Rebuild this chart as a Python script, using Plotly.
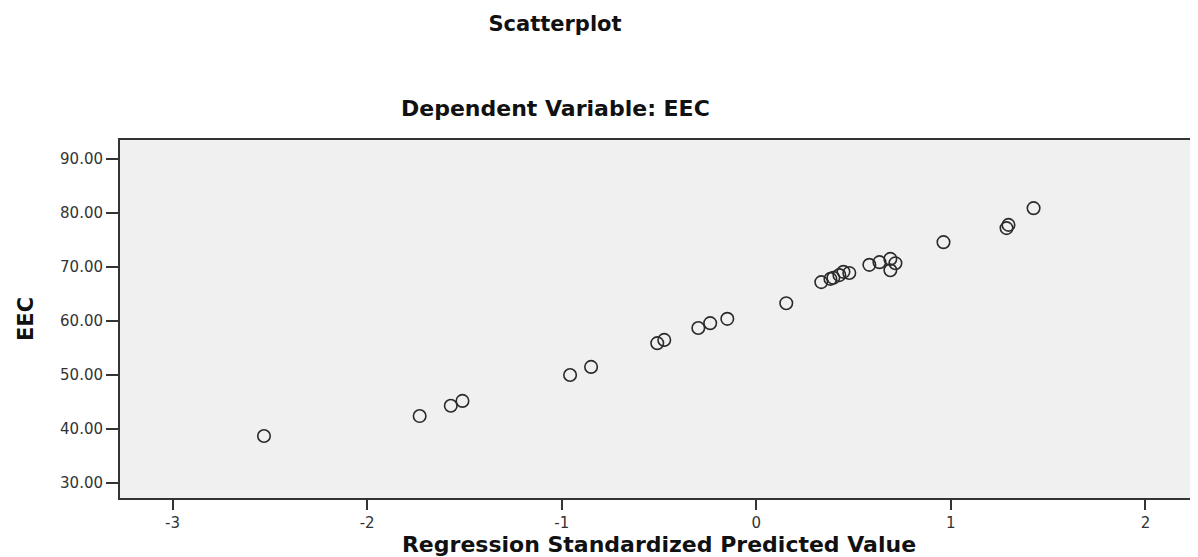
import plotly.graph_objects as go

# Data
pred_std = [-2.53, -1.73, -1.57, -1.51, -0.957, -0.849, -0.509, -0.473, -0.298, -0.237,
            -0.149, 0.154, 0.334, 0.381, 0.396, 0.427, 0.448, 0.478, 0.581, 0.633,
            0.689, 0.715, 0.689, 0.962, 1.286, 1.296, 1.425]
eec = [38.7, 42.4, 44.3, 45.2, 50.0, 51.5, 55.9, 56.5, 58.7, 59.6,
       60.4, 63.3, 67.2, 67.8, 68.0, 68.5, 69.1, 68.9, 70.4, 70.9,
       71.5, 70.7, 69.4, 74.6, 77.2, 77.8, 80.9]

y_ticks = [30, 40, 50, 60, 70, 80, 90]
x_ticks = [-3, -2, -1, 0, 1, 2]

FONT = "DejaVu Sans"
W, H = 1190, 549  # page body adds an 8px offset

fig = go.Figure()
fig.add_trace(go.Scatter(
    x=pred_std, y=eec, mode="markers",
    marker=dict(symbol="circle-open", size=12.5, color="#2a2a2a", line=dict(width=1.6)),
    showlegend=False, hoverinfo="x+y",
))

fig.update_layout(
    width=W, height=H,
    margin=dict(l=112, r=0, t=132, b=59, autoexpand=False),
    paper_bgcolor="white",
    plot_bgcolor="#f0f0f0",
    title=dict(text="<b>Scatterplot</b>", xref="container", x=547/W, xanchor="center",
               yref="container", y=1-16/H, yanchor="middle",
               font=dict(family=FONT, size=21, color="#111")),
    annotations=[dict(text="<b>Dependent Variable: EEC</b>", xref="paper", yref="paper",
                      x=(547-112)/1078, y=1+(132-100)/358, xanchor="center", yanchor="middle",
                      showarrow=False, font=dict(family=FONT, size=22, color="#111"))],
    xaxis=dict(range=[-3.27, 2.27], tickvals=x_ticks, ticktext=[str(v) for v in x_ticks],
               automargin=False,
               showgrid=False, zeroline=False, showline=True, linecolor="#333", linewidth=2,
               mirror=True, ticks="outside", ticklen=10, tickwidth=2, tickcolor="#333",
               tickfont=dict(family=FONT, size=15, color="#333"),
               title=dict(text="<b>Regression Standardized Predicted Value</b>", standoff=15,
                          font=dict(family=FONT, size=22, color="#111"))),
    yaxis=dict(range=[27.22, 93.52], tickvals=y_ticks, tickformat=".2f",
               automargin=False,
               showgrid=False, zeroline=False, showline=True, linecolor="#333", linewidth=2,
               ticks="outside", ticklen=12, tickwidth=2, tickcolor="#333",
               tickfont=dict(family=FONT, size=15, color="#333"),
               title=dict(text="<b>EEC</b>", standoff=21,
                          font=dict(family=FONT, size=21, color="#111"))),
)

fig.write_html("out.html")
